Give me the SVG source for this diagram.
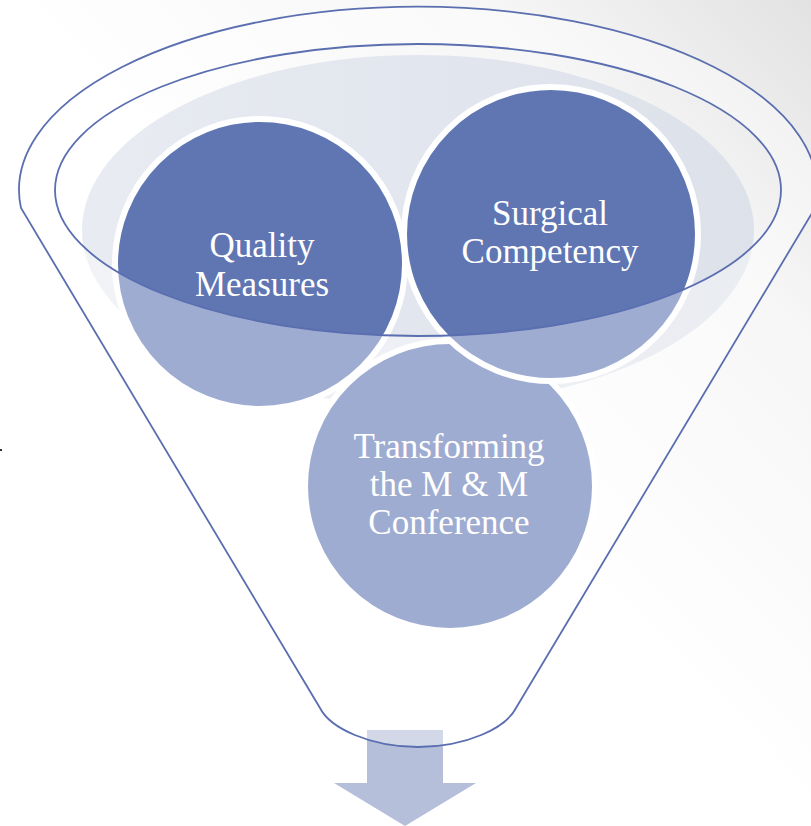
<svg xmlns="http://www.w3.org/2000/svg" width="811" height="826" viewBox="0 0 811 826">
<defs>
<linearGradient id="bg" x1="0" y1="1" x2="1" y2="0">
<stop offset="0.5" stop-color="#ffffff"/>
<stop offset="0.8" stop-color="#f6f6f6"/>
<stop offset="1" stop-color="#e2e2e2"/>
</linearGradient>
<linearGradient id="liquid" x1="0" y1="0" x2="1" y2="0">
<stop offset="0" stop-color="#e8ebf2"/>
<stop offset="1" stop-color="#dde1ea"/>
</linearGradient>
<style>
.circ{stroke:#ffffff;stroke-width:6}
.dark{fill:#5f76b3}
.lbl{font-family:"Liberation Serif","Times New Roman",serif;font-size:35px;fill:#ffffff;text-anchor:middle}
.line{fill:none;stroke:#5a6eb0;stroke-width:1.8}
</style>
</defs>
<rect x="0" y="0" width="811" height="826" fill="url(#bg)"/>
<rect x="0" y="449" width="2" height="2" fill="#333333"/>
<g id="arrow">
<path d="M367,730 H443 V783 H476 L405,826 L334,783 H367 Z" fill="#b6bfda"/>
</g>
<g id="liquid-fill">
<ellipse cx="418" cy="230" rx="336" ry="175" fill="url(#liquid)"/>
</g>
<g id="node-transforming">
<circle class="circ dark" cx="450" cy="486" r="145"/>
</g>
<g id="node-quality">
<circle class="circ dark" cx="260" cy="264" r="145"/>
</g>
<g id="node-surgical">
<circle class="circ dark" cx="551" cy="234" r="147"/>
</g>
<g id="funnel">
<path d="M21,208 A399,183 0 1 1 815,208 L516,708 C506,728 466,747 418,747 C370,747 330,728 320,708 Z M55,190 A363,146 0 1 0 781,190 A363,146 0 1 0 55,190 Z" fill="#ffffff" fill-opacity="0.4" fill-rule="evenodd"/>
<path class="line" d="M21,208 A399,183 0 1 1 815,208 L516,708 C506,728 466,747 418,747 C370,747 330,728 320,708 Z"/>
<ellipse class="line" cx="418" cy="190" rx="363" ry="146"/>
</g>
<g id="labels">
<text class="lbl" x="262" y="257">Quality</text>
<text class="lbl" x="262" y="296">Measures</text>
<text class="lbl" x="550" y="225">Surgical</text>
<text class="lbl" x="550" y="263">Competency</text>
<text class="lbl" x="449" y="458">Transforming</text>
<text class="lbl" x="449" y="496">the M &amp; M</text>
<text class="lbl" x="449" y="534">Conference</text>
</g>
<g id="connectors"/>
</svg>
